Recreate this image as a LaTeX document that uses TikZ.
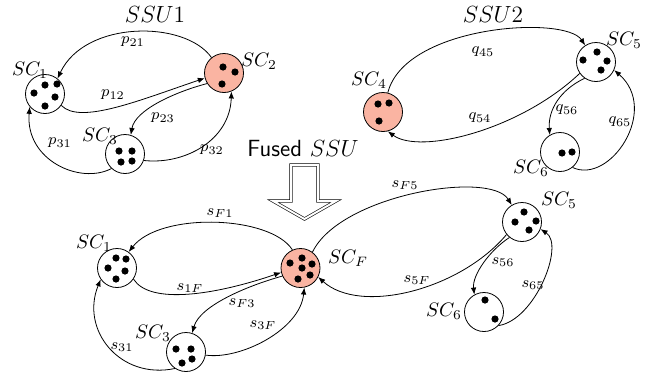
\documentclass[tikz,border=0pt]{standalone}
\usetikzlibrary{arrows.meta}
\definecolor{hotfill}{RGB}{250,180,162}
\newcommand\scdots[2]{\foreach \dx/\dy in {#2} {\fill (#1) ++(\dx,\dy) circle (3.6);}}
\begin{document}
\begin{tikzpicture}[x=1pt,y=-1pt,
  sc/.style={circle, draw, minimum size=39pt, inner sep=0pt, line width=0.8pt},
  hot/.style={sc, fill=hotfill},
  nlab/.style={font=\normalsize, scale=1.95, inner sep=0pt},
  elab/.style={font=\footnotesize, scale=1.95, inner sep=0pt},
  title/.style={font=\large, scale=1.95, inner sep=0pt},
  edge/.style={-{Latex[length=7pt,width=5.5pt]}, line width=0.8pt}]
\useasboundingbox (0,0) rectangle (654,381);

% ---- SSU1 ----
\node[title] (ttl1) at (155,15) {$SSU1$};
\node[sc]  (t1) at (45,94) {};
\node[hot] (t2) at (224,73) {};
\node[sc]  (t3) at (125,154) {};
\scdots{t1}{0/-9, 12/-10, -11/-1, 10/3, 0/12}
\scdots{t2}{-1/-6, 11/-1, -2/11}
\scdots{t3}{-6/-3, 7/-3, -4/8, 7/7}
\node[nlab] (lt1) at (30,70) {$SC_1$};
\node[nlab] (lt2) at (259,61) {$SC_2$};
\node[nlab] (lt3) at (100,136) {$SC_3$};

\draw[edge] (t2.129) .. controls (185,20) and (85,20) .. (t1.51);
\draw[edge] (t1.-35) .. controls (80,125) and (140,100) .. (t2.195);
\draw[edge] (t2.212) .. controls (175,92) and (135,110) .. (t3.73);
\draw[edge] (t3.-19) .. controls (185,165) and (230,140) .. (t2.-68);
\draw[edge] (t3.227) .. controls (80,185) and (25,160) .. (t1.220);
\node[elab] (p21) at (133,42) {$p_{21}$};
\node[elab] (p12) at (113,95) {$p_{12}$};
\node[elab] (p23) at (163,118) {$p_{23}$};
\node[elab] (p32) at (212,150) {$p_{32}$};
\node[elab] (p31) at (60,143) {$p_{31}$};

% ---- SSU2 ----
\node[title] (ttl2) at (493,15) {$SSU2$};
\node[hot] (t4) at (383,112) {};
\node[sc]  (t5) at (596,62) {};
\node[sc]  (t6) at (560,152) {};
\scdots{t4}{-5/-8, 6/-9, -4/9}
\scdots{t5}{1/-10, -13/-2, 11/-1, 5/8}
\scdots{t6}{2/1, 12/0}
\node[nlab] (lt4) at (369,80) {$SC_4$};
\node[nlab] (lt5) at (624,40) {$SC_5$};
\node[nlab] (lt6) at (531,168) {$SC_6$};

\draw[edge] (t4.76) .. controls (405,25) and (565,15) .. (t5.123);
\draw[edge] (t5.215) .. controls (520,130) and (420,155) .. (t4.284);
\draw[edge] (t5.235) .. controls (560,90) and (548,110) .. (t6.121);
\draw[edge] (t6.309) .. controls (610,185) and (660,110) .. (t5.336);
\node[elab] (q45) at (483,52) {$q_{45}$};
\node[elab] (q54) at (480,118) {$q_{54}$};
\node[elab] (q56) at (567,110) {$q_{56}$};
\node[elab] (q65) at (620,122) {$q_{65}$};

% ---- fusion arrow ----
\node[title] (fused) at (303,148) {\sffamily Fused $SSU$};
\draw[double, double distance=2pt, line width=0.6pt, line join=miter]
  (291,165) -- (291,201) -- (273,201) -- (304.5,219) -- (336,201)
  -- (318,201) -- (318,165) -- cycle;

% ---- fused SSU ----
\node[sc]  (b1) at (117,268) {};
\node[hot] (bF) at (300.5,268) {};
\node[sc]  (b3) at (186,352) {};
\node[sc]  (b5) at (522,222) {};
\node[sc]  (b6) at (484,312) {};
\scdots{b1}{-1/-10, 9/-9, -9/0, 8/3, -1/11}
\scdots{bF}{1.5/-10, -10.5/-5, 11.5/-4, 1.5/0, 9.5/7, -2.5/11}
\scdots{b3}{-10/-3, 5/-3, -4/11, 6/7}
\scdots{b5}{2/-10, -7/0, 14/-1, 7/8}
\scdots{b6}{1/-12, 11/7}
\node[nlab] (lb1) at (94,243) {$SC_1$};
\node[nlab] (lbF) at (348,258) {$SC_F$};
\node[nlab] (lb3) at (153,333) {$SC_3$};
\node[nlab] (lb5) at (559,200) {$SC_5$};
\node[nlab] (lb6) at (444,311) {$SC_6$};

\draw[edge] (bF.114) .. controls (270,215) and (160,212) .. (b1.54);
\draw[edge] (b1.-34) .. controls (150,305) and (215,295) .. (bF.193);
\draw[edge] (bF.204) .. controls (250,285) and (200,305) .. (b3.72);
\draw[edge] (b3.-9) .. controls (240,360) and (300,330) .. (bF.-79);
\draw[edge] (b3.236) .. controls (120,380) and (80,330) .. (b1.215);
\draw[edge] (bF.53) .. controls (340,195) and (490,170) .. (b5.121);
\draw[edge] (b5.219) .. controls (460,290) and (360,315) .. (bF.-27);
\draw[edge] (b5.231) .. controls (490,250) and (472,275) .. (b6.119);
\draw[edge] (b6.317) .. controls (535,320) and (565,245) .. (b5.339);
\node[elab] (sF1) at (220,213) {$s_{F1}$};
\node[elab] (s1F) at (190,288) {$s_{1F}$};
\node[elab] (sF3) at (242,303) {$s_{F3}$};
\node[elab] (s3F) at (263,325) {$s_{3F}$};
\node[elab] (s31) at (122,347) {$s_{31}$};
\node[elab] (sF5) at (405,185) {$s_{F5}$};
\node[elab] (s5F) at (417,280) {$s_{5F}$};
\node[elab] (s56) at (503,262) {$s_{56}$};
\node[elab] (s65) at (533,285) {$s_{65}$};
\end{tikzpicture}
\end{document}
